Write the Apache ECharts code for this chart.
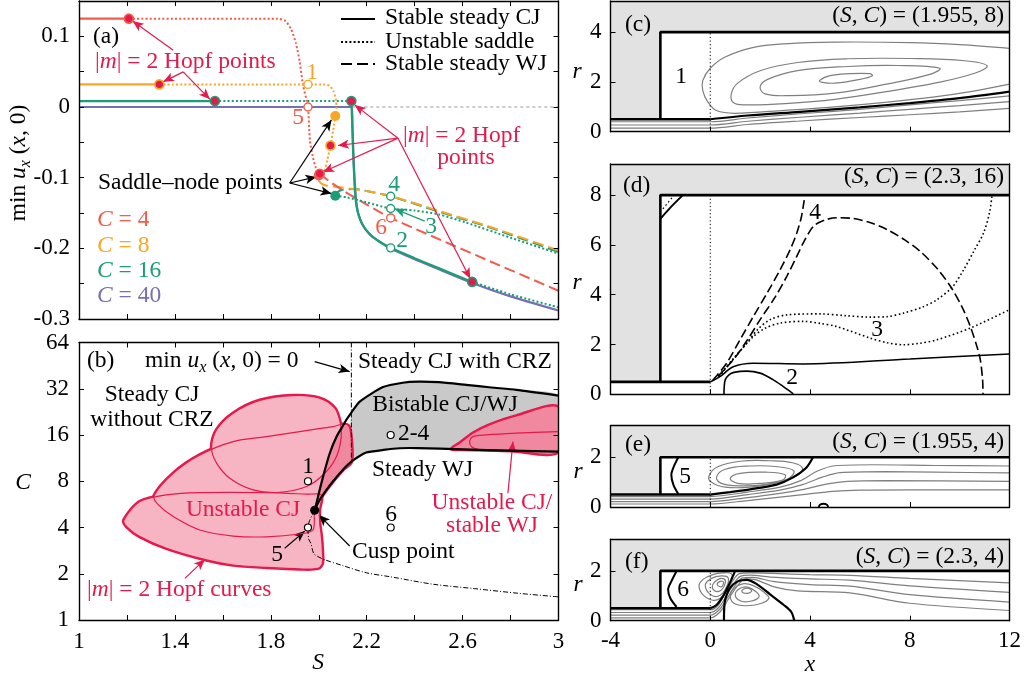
<!DOCTYPE html>
<html><head><meta charset="utf-8">
<script src="https://cdn.jsdelivr.net/npm/echarts/dist/echarts.min.js"></script>
<style>html,body{margin:0;padding:0;background:#fff}#chart{width:1034px;height:679px}</style>
</head><body><div id="chart"></div>
<script>
// ---------------- tick labels ----------------
const sTickLabels = ['1','1.4','1.8','2.2','2.6','3'];
const uTickLabels = ['0.1','0','-0.1','-0.2','-0.3'];
const cTickLabels = ['1','2','4','8','16','32','64'];
const xTickLabels = ['-4','0','4','8','12'];
const rTickLabels = ['0','2','4','6','8'];

// ---------------- panel (a): min u_x(x,0) vs S ----------------
const c4CJ = [[1,0.125],[1.208,0.125]];
const c4Saddle = [[1.208,0.125],[1.83,0.125],[1.86,0.122],[1.885,0.11],[1.905,0.09],[1.92,0.065],[1.935,0.03],[1.955,0.0],[1.963,-0.047],[1.975,-0.07],[1.988,-0.086],[2.004,-0.0944]];
const c4WJ = [[2.004,-0.0944],[2.04,-0.104],[2.1,-0.118],[2.2,-0.138],[2.3,-0.157],[3,-0.26]];
const c8CJ = [[1,0.032],[1.335,0.032]];
const c8Saddle = [[1.335,0.032],[2.02,0.032],[2.045,0.03],[2.062,0.022],[2.072,0.01],[2.074,0.0],[2.069,-0.0127],[2.06,-0.033],[2.049,-0.0545],[2.035,-0.0757],[2.022,-0.092],[2.01,-0.1],[2.0,-0.104]];
const c8WJ = [[2.0,-0.104],[2.01,-0.108],[2.03,-0.111],[2.1,-0.114],[2.2,-0.119],[2.3,-0.126],[2.5,-0.147],[2.7,-0.168],[3,-0.203]];
const c16CJ = [[1,0.0084],[1.567,0.0084]];
const c16Saddle = [[1.567,0.0084],[2.136,0.0084]];
const c16CJ2 = [[2.136,0.0084],[2.139,-0.02],[2.143,-0.06],[2.148,-0.1],[2.153,-0.128],[2.162,-0.148],[2.18,-0.165],[2.21,-0.179],[2.25,-0.19],[2.3,-0.1993],[2.4,-0.214],[2.5,-0.228],[2.64,-0.2475]];
const c16Saddle2 = [[2.64,-0.2475],[2.8,-0.265],[3,-0.2835]];
const c16Saddle3 = [[2.069,-0.1256],[2.12,-0.128],[2.2,-0.135],[2.3,-0.1437],[2.4,-0.1465],[2.5,-0.152],[2.615,-0.1636],[2.8,-0.185],[3,-0.2075]];
const c16WJ = [[2.069,-0.1256],[2.08,-0.12],[2.1,-0.117],[2.15,-0.116],[2.2,-0.119],[2.3,-0.1263],[2.5,-0.148],[2.7,-0.169],[3,-0.205]];
const c40CJ = [[1,0],[2.138,0],[2.141,-0.03],[2.145,-0.07],[2.15,-0.105],[2.156,-0.132],[2.166,-0.152],[2.185,-0.168],[2.215,-0.181],[2.26,-0.192],[2.3,-0.2003],[2.4,-0.2155],[2.5,-0.2295],[2.64,-0.249],[2.8,-0.268],[3,-0.288]];
const zeroRef = [[2.14,0],[3,0]];
const hopfPts = [[1.208,0.125],[1.335,0.032],[1.567,0.0084],[2.136,0.0084],[2.049,-0.0545],[2.004,-0.0944],[2.64,-0.2475]];
const hopfOf = [4,8,16,16,8,4,16];
const saddlePts = [[2.069,-0.0127],[2.0,-0.097],[2.069,-0.1256]];
const saddleOf = [8,4,16];
const casePts = [[1.955,0.032],[1.955,0.0],[2.3,-0.157],[2.3,-0.1993],[2.3,-0.1437],[2.3,-0.1263]];
const caseOf = [8,4,4,16,16,16];
const arrowsAHopf = [[[1.393,0.0803],[1.2236,0.1216]],[[1.4346,0.0497],[1.351,0.0356]],[[1.4346,0.0497],[1.546,0.0109]],[[2.3306,-0.0441],[2.15,0.003]],[[2.3306,-0.0441],[2.08,-0.0545]],[[2.3306,-0.0441],[2.018,-0.092]],[[2.3306,-0.0441],[2.632,-0.243]]];
const arrowsASaddle = [[[1.879,-0.1075],[2.053,-0.0183]],[[1.879,-0.1075],[1.99,-0.099]],[[1.879,-0.1075],[2.053,-0.1225]]];
const arrowsA3 = [[[2.442,-0.1615],[2.317,-0.1441]]];

// ---------------- panel (b): C vs S ----------------
const upperHorn = [[1.983,5.18],[1.997,6.35],[2.018,8.57],[2.046,12.17],[2.074,15.6],[2.1,18.3],[2.115,20.06],[2.136,22.4],[2.171,26.4],[2.268,32.8],[2.35,35.0],[2.414,35.6],[2.5,35.3],[2.615,33.9],[2.72,32.6],[2.824,31.5],[3,28.9]];
const lowerHorn = [[1.983,5.18],[2.004,6.04],[2.032,7.02],[2.058,7.94],[2.1,9.48],[2.136,10.73],[2.198,12.3],[2.27,12.79],[2.337,13.12],[2.41,13.15],[2.6,12.9],[2.8,12.65],[3,12.47]];
const crzLine = [[2.136,64],[2.136,10.73]];
const zeroContour = [[1.983,5.18],[1.962,4.44],[1.955,4.0],[1.958,3.36],[1.967,3.16],[1.979,2.71],[2.0,2.57],[2.027,2.46],[2.1,2.26],[2.198,2.03],[2.3,1.91],[2.476,1.71],[2.65,1.6],[2.837,1.49],[3,1.414]];
const lobeA = [[1.553,13.14],[1.574,17.3],[1.643,22.2],[1.754,26.9],[1.893,28.9],[2.004,27.8],[2.067,23.9],[2.09,19.1],[2.094,15.6],[2.074,11.6],[2.025,9.02],[1.949,7.39],[1.8375,6.78],[1.726,7.03],[1.629,8.37],[1.574,10.5]];
const lobeB = [[1.3125,6.42],[1.393,9.02],[1.504,11.87],[1.643,14.5],[1.782,15.63],[1.921,16.84],[2.0,17.6],[2.06,18.16],[2.101,18.8],[2.126,18.16],[2.136,14.87],[2.136,10.73],[2.1,9.48],[2.058,7.94],[2.032,7.02],[2.004,6.04],[1.983,5.18],[1.976,3.85],[1.921,3.63],[1.782,3.48],[1.643,3.52],[1.504,3.85],[1.393,4.71],[1.331,5.61]];
const lobeC = [[1.1875,4.48],[1.254,5.9],[1.365,6.52],[1.504,6.75],[1.782,6.75],[1.95,6.59],[2.011,6.51],[2.003,5.2],[2.004,4.26],[2.011,3.49],[2.015,2.85],[2.015,2.34],[1.997,2.17],[1.921,2.15],[1.782,2.2],[1.643,2.28],[1.532,2.46],[1.365,2.93],[1.254,3.49],[1.199,4.05]];
const darkSliver = [[1.983,5.18],[1.997,6.35],[2.018,8.57],[2.046,12.17],[2.074,15.6],[2.1,18.3],[2.126,18.16],[2.136,14.87],[2.136,10.73],[2.1,9.48],[2.058,7.94],[2.032,7.02],[2.004,6.04]];
const lobeD = [[2.553,12.99],[2.5875,14.14],[2.643,16.44],[2.7125,18.63],[2.824,21.3],[3,24.25],[3,12.47],[2.8,12.65],[2.6,12.9]];
const lobeE = [[3,16.84],[2.824,16.44],[2.699,16.02],[2.643,15.62],[2.629,14.49],[2.64,13.32],[2.67,12.85]];
const casePtsB = [[1.955,8],[1.955,4],[2.3,16],[2.3,4]];
const cuspPt = [[1.983,5.18]];
const arrowsBBlack = [[[1.983,48.1],[2.129,41.4]],[[1.858,2.93],[1.942,3.79]],[[2.129,3.03],[2.001,4.82]]];
const arrowsBHopf = [[[1.4417,1.866],[1.525,2.48]],[[2.789,6.68],[2.81,14.5]]];

// ---------------- panels (c)-(f): streamlines (x, r) ----------------
const chamberR = [4, 8, 2, 2];
const rTop = [5.25, 9.25, 3.27, 3.27];
const cStream1 = [[-4,0.4],[0,0.4],[1.5,0.55],[3.6,0.72],[6,0.9],[8,1.08],[10,1.25],[12,1.44]];
const cStream2 = [[-4,0.27],[0,0.27],[1.5,0.42],[3.6,0.58],[6,0.75],[8,0.9],[10,1.05],[12,1.21]];
const cStream3 = [[-4,0.14],[0,0.14],[1.5,0.29],[3.6,0.43],[6,0.57],[8,0.68],[10,0.8],[12,0.94]];
const cDivide = [[0,0.5],[1.5,0.65],[3.6,0.8],[6,0.98],[8,1.15],[10,1.35],[12,1.61]];
const cOuter = [[12,3.35],[10,3.5],[8,3.58],[5,3.6],[3,3.53],[1.7,3.38],[0.6,3.0],[0,2.55],[-0.3,2.05],[-0.3,1.65],[-0.1,1.2],[0.25,0.85],[1,0.74],[3,0.86],[5,1.0],[7,1.18],[9,1.4],[10.5,1.62],[12,1.91]];
const cLoop2 = [[0.95,1.15],[0.84,1.5],[1.1,1.95],[2,2.45],[3.5,2.78],[5.5,2.93],[8,2.94],[10.2,2.85],[11.1,2.65],[10.6,2.35],[9,1.95],[7,1.6],[5,1.3],[3,1.13],[1.5,1.08]];
const cLoop3 = [[2.0,1.8],[2.3,2.1],[3.5,2.45],[5.5,2.62],[7.5,2.66],[9.2,2.55],[8.8,2.3],[7,1.9],[5,1.55],[3.2,1.45],[2.2,1.52]];
const cLoop4 = [[4.38,2.05],[4.8,2.25],[5.6,2.33],[6.4,2.33],[6.5,2.25],[6.0,2.1],[5.0,1.95],[4.5,1.98]];

const dCJ1 = [[0,0.5],[0.39,0.71],[0.92,1.11],[1.73,1.25],[3.73,1.22],[8,1.42],[12,1.62]];
const dCJ2 = [[0.55,0],[0.56,0.3],[0.6,0.58],[0.75,0.78],[0.95,0.88],[1.46,0.93],[2.0,0.85],[2.5,0.6],[2.93,0.31],[3.33,0.02]];
const dWJ1 = [[0.1,0.56],[0.3,0.8],[0.66,1.25],[1.2,2.2],[1.73,3.13],[2.3,4.1],[2.8,5.0],[3.2,5.8],[3.47,6.48],[3.65,7.1],[3.73,7.56],[3.8,8]];
const dWJ2 = [[0.3,0.72],[0.92,1.38],[1.5,2.2],[2.0,3.0],[2.6,3.9],[3.07,4.74],[3.45,5.5],[3.73,6.08],[4.14,6.75],[4.6,7.0],[5.07,7.09],[5.74,7.06],[6.4,6.9],[7.08,6.62],[7.8,6.2],[8.42,5.74],[9.1,5.05],[9.63,4.34],[10.1,3.5],[10.43,2.72],[10.7,1.9],[10.83,1.38],[10.92,0.6],[10.94,0]];
const dSad1 = [[0.35,0.75],[0.9,1.4],[1.46,2.05],[1.9,2.6],[2.4,3.0],[3.07,3.19],[4.4,3.23],[5.4,3.16],[6.41,3.1],[7.1,3.12],[7.75,3.26],[8.5,3.5],[9.09,3.8],[9.7,4.3],[10.16,5.0],[10.6,5.8],[10.96,6.48],[11.2,7.3],[11.3,8]];
const dSad2 = [[0.35,0.7],[1.0,1.5],[1.73,2.32],[2.2,2.65],[2.8,2.86],[3.73,2.93],[4.4,2.85],[5.07,2.72],[6.41,2.26],[7.1,2.07],[7.75,1.99],[8.4,2.05],[9.09,2.19],[10.43,2.66],[12,3.4]];
const dCorner = [[-2,7.05],[-1.6,7.5],[-1.1,8]];
const dCorner2 = [[-1.9,7.45],[-1.45,8]];

const eBracket = [[-1.28,2.0],[-1.45,1.65],[-1.56,1.3],[-1.48,0.9],[-1.28,0.52]];
const eDivide = [[0,0.5],[0.8,0.6],[1.6,0.71],[2.66,0.9],[3.3,1.18],[3.85,1.58],[4.12,2.0]];
const eLoop1 = [[-0.05,1.25],[0.3,1.62],[1.2,1.84],[2.4,1.86],[3.3,1.78],[3.7,1.55],[3.4,1.22],[2.6,0.97],[1.6,0.8],[0.6,0.8],[0.05,1.0]];
const eLoop2 = [[0.25,1.2],[0.6,1.52],[1.6,1.65],[2.7,1.62],[3.35,1.45],[3.1,1.12],[2.2,0.9],[1.2,0.85],[0.45,0.95]];
const eLoop3 = [[0.8,1.15],[1.2,1.35],[2.2,1.4],[3.0,1.3],[2.9,1.08],[2.0,0.95],[1.1,0.95]];
const eStream1 = [[-4,0.42],[0,0.42],[1.5,0.6],[2.8,0.8],[3.6,1.05],[4.3,1.45],[5,1.66],[6.5,1.7],[9,1.67],[12,1.65]];
const eStream2 = [[-4,0.32],[0,0.32],[1.5,0.5],[2.8,0.68],[3.7,0.9],[4.5,1.2],[5.2,1.38],[7,1.42],[9,1.4],[12,1.37]];
const eStream3 = [[-4,0.22],[0,0.22],[1.5,0.38],[2.8,0.55],[3.8,0.72],[4.7,0.93],[5.5,1.03],[7,1.06],[12,1.03]];
const eStream4 = [[-4,0.12],[0,0.12],[1.5,0.26],[2.8,0.4],[3.9,0.52],[4.9,0.63],[6,0.68],[8,0.69],[12,0.69]];
const eBump = [[4.35,0],[4.4,0.09],[4.54,0.13],[4.68,0.09],[4.73,0]];

const fBracket = [[-1.35,2.0],[-1.55,1.6],[-1.69,1.25],[-1.6,0.9],[-1.35,0.55]];
const fDivide = [[0,0.5],[0.25,0.63],[0.55,1.05],[0.8,1.55],[1.0,2.0]];
const fHump = [[0.55,0],[0.56,0.5],[0.6,0.85],[0.78,1.3],[1.1,1.58],[1.46,1.64],[1.85,1.48],[2.4,1.06],[2.95,0.63],[3.25,0.35],[3.37,0]];
const fLeft1 = [[-0.45,1.4],[-0.3,1.65],[0.1,1.85],[0.5,1.92],[0.85,1.88],[0.85,1.6],[0.65,1.2],[0.4,0.9],[0.1,0.82],[-0.3,1.05]];
const fLeft2 = [[-0.2,1.42],[0.05,1.7],[0.45,1.8],[0.72,1.72],[0.65,1.35],[0.4,1.02],[0.05,1.02]];
const fLeft3 = [[0.1,1.45],[0.3,1.65],[0.55,1.68],[0.6,1.5],[0.4,1.2],[0.15,1.22]];
const fLeft4 = [[0.28,1.45],[0.4,1.58],[0.53,1.55],[0.45,1.36]];
const fRight1 = [[0.8,1.0],[0.95,1.3],[1.3,1.48],[1.7,1.42],[2.15,1.15],[2.35,0.9],[2.0,0.68],[1.4,0.6],[0.95,0.7]];
const fRight2 = [[1.0,1.05],[1.2,1.3],[1.5,1.35],[1.85,1.15],[1.95,0.95],[1.6,0.78],[1.2,0.8]];
const fRight3 = [[1.27,1.2],[1.4,1.3],[1.6,1.28],[1.66,1.18],[1.5,1.1],[1.32,1.12]];
const fStream1 = [[-4,0.44],[0,0.44],[0.3,0.6],[0.6,1.1],[0.9,1.6],[1.15,1.88],[1.6,1.92],[2.5,1.9],[4,1.85],[5.6,1.82],[8,1.7],[12,1.52]];
const fStream2 = [[-4,0.33],[0,0.33],[0.33,0.52],[0.65,1.0],[0.95,1.5],[1.2,1.78],[1.6,1.83],[2.4,1.75],[4,1.68],[5.6,1.63],[8,1.4],[12,1.14]];
const fStream3 = [[-4,0.22],[0,0.22],[0.36,0.44],[0.68,0.9],[1.0,1.42],[1.3,1.72],[1.7,1.74],[2.5,1.58],[4,1.45],[5.6,1.39],[8,1.05],[12,0.75]];
const fStream4 = [[-4,0.11],[0,0.11],[0.4,0.36],[0.7,0.82],[1.05,1.35],[1.4,1.68],[1.8,1.65],[2.6,1.35],[3.5,1.2],[5.6,1.12],[8,0.7],[12,0.41]];

// ---------------- styling ----------------
const FONT = 'Liberation Serif';
const FS = 23.5;
const COL = {4:'#f45b4b', 8:'#f8a724', 16:'#1b9e77', 40:'#7570b3'};
const CRIMSON = '#e6194b';
const PINK = '#f7b4c3', PINK_DARK = '#f0889f', GRAY_BI = '#c9c9c9', WALL = '#e2e2e2', STREAM = '#7f7f7f';
const DOT = [2, 2.2], DASH = [11, 5], DASHDOT = [5, 2, 1, 2];

const xAxes = [], yAxes = [];
function inList(list, s) { return list.indexOf(s) >= 0 ? s : ''; }
function addAxes(gi, xs, ys, o) {
  const line = {show:true, onZero:false, lineStyle:{color:'#000', width:1.4}};
  const tick = (show) => ({show, inside:true, length:5, lineStyle:{color:'#000', width:1}});
  const lab = (show, fmt) => ({show, formatter: fmt, margin: o.margin || 9, color:'#000', fontFamily:FONT, fontSize:23});
  xAxes.push(Object.assign({gridIndex:gi, position:'bottom', z:20, axisLine:line, axisTick:tick(o.ticks), splitLine:{show:false}, axisLabel:lab(!!o.xLab, xs.fmt)}, xs.scale));
  xAxes.push(Object.assign({gridIndex:gi, position:'top', z:20, axisLine:line, axisTick:tick(o.mirror), splitLine:{show:false}, axisLabel:{show:false}}, xs.scale));
  yAxes.push(Object.assign({gridIndex:gi, position:'left', z:20, axisLine:line, axisTick:tick(o.ticks), splitLine:{show:false}, axisLabel:lab(true, ys.fmt)}, ys.scale));
  yAxes.push(Object.assign({gridIndex:gi, position:'right', z:20, axisLine:line, axisTick:tick(o.mirror), splitLine:{show:false}, axisLabel:{show:false}}, ys.scale));
}
const sAxis = {scale:{type:'value', min:1, max:3, interval:0.2}, fmt: v => inList(sTickLabels, String(+(+v).toFixed(1)))};
const xAxisR = {scale:{type:'value', min:-4, max:12, interval:4}, fmt: v => inList(xTickLabels, String(Math.round(v)))};
addAxes(0, sAxis, {scale:{type:'value', min:-0.3, max:0.15, interval:0.05}, fmt: v => inList(uTickLabels, String(+(+v).toFixed(2)))}, {ticks:true, mirror:true});
addAxes(1, sAxis, {scale:{type:'log', logBase:2, min:1, max:64}, fmt: v => inList(cTickLabels, String(Math.round(v)))}, {ticks:true, mirror:true, xLab:true, margin:10});
for (let k = 0; k < 4; k++) {
  addAxes(2 + k, xAxisR, {scale:{type:'value', min:0, max:rTop[k], interval:2}, fmt: v => inList(rTickLabels, String(Math.round(v)))}, {ticks:true, mirror:false, xLab: k === 3, margin:9});
}

const grids = [
  {left:79, top:1, width:479.5, height:318},
  {left:79, top:342.5, width:479.5, height:277.5},
  {left:610.5, top:1, width:399, height:130.7},
  {left:610.5, top:164, width:399, height:230.3},
  {left:610.5, top:425.7, width:399, height:81.3},
  {left:610.5, top:539.3, width:399, height:81.4}
];

const series = [];
function L(gi, data, color, width, dash, smooth, z) {
  series.push({type:'line', xAxisIndex:2*gi, yAxisIndex:2*gi, data, symbol:'none', showSymbol:false,
    smooth: smooth || false, lineStyle:{color, width, type: dash || 'solid', cap:'butt'}, z: z || 3, silent:true, animation:false});
}
function P(gi, pts, style, smooth, z, closed) {
  series.push({type:'custom', xAxisIndex:2*gi, yAxisIndex:2*gi, coordinateSystem:'cartesian2d', clip:true, silent:true, z: z || 2,
    data:[pts[0]], animation:false,
    renderItem: (params, api) => ({type: closed === false ? 'polyline' : 'polygon',
      shape:{points: pts.map(p => api.coord(p)), smooth: smooth || 0},
      style: Object.assign({}, style)})});
}
function SC(gi, data, size, fill, border, bw, z) {
  series.push({type:'scatter', xAxisIndex:2*gi, yAxisIndex:2*gi, data, symbol:'circle', symbolSize:size,
    itemStyle:{color:fill, borderColor:border, borderWidth:bw, opacity:1}, z: z || 7, silent:true, animation:false});
}
function ARW(gi, list, color) {
  series.push({type:'line', xAxisIndex:2*gi, yAxisIndex:2*gi, data:[], z:8, silent:true, animation:false,
    markLine:{silent:true, animation:false, symbol:['none','arrow'], symbolSize:[7,11], label:{show:false},
      lineStyle:{color, width:1.2, type:'solid'}, emphasis:{disabled:true},
      data: list.map(a => [{coord:a[0]}, {coord:a[1]}])}});
}

// ---- panel (a)
L(0, zeroRef, '#999', 1, [3,3], false, 2);
L(0, c40CJ, COL[40], 2.2, 'solid', 0.25, 3);
L(0, c16WJ, COL[16], 2, DASH, 0.25, 3);
L(0, c8WJ, COL[8], 2, DASH, 0.25, 3);
L(0, c4WJ, COL[4], 2, DASH, 0.25, 3);
L(0, c16Saddle3, COL[16], 2, DOT, 0.25, 3);
L(0, c16CJ2, COL[16], 2.2, 'solid', 0.25, 4);
L(0, c16Saddle2, COL[16], 2, DOT, 0.25, 4);
L(0, c4CJ, COL[4], 2.2, 'solid', false, 3);
L(0, c4Saddle, COL[4], 2, DOT, 0.2, 3);
L(0, c8CJ, COL[8], 2.2, 'solid', false, 3);
L(0, c8Saddle, COL[8], 2, DOT, 0.2, 3);
L(0, c16CJ, COL[16], 2.2, 'solid', false, 3);
L(0, c16Saddle, COL[16], 2, DOT, false, 3);
SC(0, saddlePts.map((p, i) => ({value:p, itemStyle:{color:COL[saddleOf[i]], borderColor:COL[saddleOf[i]]}})), 10, '#000', '#000', 0, 6);
SC(0, hopfPts.map((p, i) => ({value:p, itemStyle:{color:CRIMSON, borderColor:COL[hopfOf[i]]}})), 9, CRIMSON, '#000', 1.6, 7);
SC(0, casePts.map((p, i) => ({value:p, itemStyle:{color:'#fff', borderColor:COL[caseOf[i]]}})), 8, '#fff', '#000', 1.4, 7);
ARW(0, arrowsAHopf, CRIMSON);
ARW(0, arrowsASaddle, '#000');
ARW(0, arrowsA3, COL[16]);

// ---- panel (b)
const grayBi = upperHorn.filter(p => p[0] >= 2.136).concat(lowerHorn.filter(p => p[0] >= 2.136).reverse());
P(1, grayBi, {fill:GRAY_BI, stroke:null}, 0.2, 1);
[lobeA, lobeB, lobeC, lobeD].forEach(l => P(1, l, {fill:'none', stroke:CRIMSON, lineWidth:3.6}, 0.3, 2));
[lobeA, lobeB, lobeC].forEach(l => P(1, l, {fill:PINK, stroke:null}, 0.3, 3));
P(1, lobeD, {fill:PINK_DARK, stroke:null}, 0.3, 3);
P(1, darkSliver, {fill:PINK_DARK, stroke:null}, 0.2, 4);
[lobeA, lobeB, lobeC, lobeD].forEach(l => P(1, l, {fill:'none', stroke:CRIMSON, lineWidth:1.2}, 0.3, 5));
P(1, lobeE, {fill:null, stroke:CRIMSON, lineWidth:1.2}, 0.3, 5, false);
P(1, upperHorn, {fill:null, stroke:'#000', lineWidth:2.2}, 0.2, 6, false);
P(1, lowerHorn, {fill:null, stroke:'#000', lineWidth:2.2}, 0.2, 6, false);
L(1, crzLine, '#000', 1, DASHDOT, false, 6);
L(1, zeroContour, '#000', 1, DASHDOT, 0.3, 6);
SC(1, casePtsB, 7, '#fff', '#000', 1.2, 7);
SC(1, cuspPt, 9, '#000', '#000', 0, 7);
ARW(1, arrowsBBlack, '#000');
ARW(1, arrowsBHopf, CRIMSON);

// ---- panels (c)-(f)
function nozzle(gi, R, top) {
  P(gi, [[-4,0.5],[-2,0.5],[-2,R],[12,R],[12,top],[-4,top]], {fill:WALL, stroke:null}, 0, 1);
  L(gi, [[0,0],[0,R]], '#000', 1, [1.2,2.4], false, 4);
  L(gi, [[-4,0.5],[0,0.5]], '#000', 2.6, 'solid', false, 6);
  L(gi, [[-2,0.5],[-2,R],[12,R]], '#000', 2.6, 'solid', false, 6);
}
const gc = 2, gd = 3, ge = 4, gf = 5;
nozzle(gc, chamberR[0], rTop[0]);
[cStream1, cStream2, cStream3].forEach(s => L(gc, s, STREAM, 1.2, 'solid', 0.3, 3));
P(gc, cOuter, {fill:null, stroke:STREAM, lineWidth:1.2}, 0.35, 3, false);
[cLoop2, cLoop3, cLoop4].forEach(s => P(gc, s, {fill:'none', stroke:STREAM, lineWidth:1.2}, 0.4, 3));
L(gc, cDivide, '#000', 2.2, 'solid', 0.3, 5);

nozzle(gd, chamberR[1], rTop[1]);
L(gd, dCJ1, '#000', 1.6, 'solid', 0.3, 5);
L(gd, dCJ2, '#000', 1.6, 'solid', 0.3, 5);
L(gd, dWJ1, '#000', 1.6, [9,4], 0.3, 5);
L(gd, dWJ2, '#000', 1.6, [9,4], 0.3, 5);
L(gd, dSad1, '#000', 1.6, [1.6,2.6], 0.3, 5);
L(gd, dSad2, '#000', 1.6, [1.6,2.6], 0.3, 5);
L(gd, dCorner, '#000', 2, 'solid', 0.3, 5);
L(gd, dCorner2, '#000', 1.2, [1.6,2.6], false, 5);

nozzle(ge, chamberR[2], rTop[2]);
[eStream1, eStream2, eStream3, eStream4].forEach(s => L(ge, s, STREAM, 1.2, 'solid', 0.3, 3));
[eLoop1, eLoop2, eLoop3].forEach(s => P(ge, s, {fill:'none', stroke:STREAM, lineWidth:1.2}, 0.4, 3));
L(ge, eDivide, '#000', 2.2, 'solid', 0.3, 5);
L(ge, eBracket, '#000', 2, 'solid', 0.3, 5);
L(ge, eBump, '#000', 2, 'solid', 0.3, 5);

nozzle(gf, chamberR[3], rTop[3]);
[fStream1, fStream2, fStream3, fStream4].forEach(s => L(gf, s, STREAM, 1.2, 'solid', 0.3, 3));
[fLeft1, fLeft2, fLeft3, fLeft4, fRight1, fRight2, fRight3].forEach(s => P(gf, s, {fill:'none', stroke:STREAM, lineWidth:1.2}, 0.4, 3));
L(gf, fDivide, '#000', 2.2, 'solid', 0.3, 5);
L(gf, fHump, '#000', 2.2, 'solid', 0.3, 5);
L(gf, fBracket, '#000', 2, 'solid', 0.3, 5);

// ---------------- text ----------------
function rich(color) {
  return {
    n:{fontSize:FS, fontFamily:FONT, fill:color, lineHeight:30},
    i:{fontSize:FS, fontFamily:FONT, fontStyle:'italic', fill:color, lineHeight:30},
    s:{fontSize:16, fontFamily:FONT, fontStyle:'italic', fill:color, lineHeight:30, verticalAlign:'bottom'}
  };
}
const texts = [];
function T(x, y, text, color, align, rot) {
  const el = {type:'text', x, y, z:100, silent:true,
    style:{text, fontSize:FS, fontFamily:FONT, fill: color || '#000', align: align || 'left', verticalAlign:'middle', rich: rich(color || '#000')}};
  if (rot) el.rotation = rot;
  texts.push(el);
}
// (a)
T(93, 37, '(a)');
T(95, 62, '{n||}{i|m}{n|| = 2 Hopf points}', CRIMSON);
T(385, 18, 'Stable steady CJ');
T(385, 42, 'Unstable saddle');
T(385, 64, 'Stable steady WJ');
T(403, 136, '{n||}{i|m}{n|| = 2 Hopf}', CRIMSON);
T(466, 158, 'points', CRIMSON, 'center');
T(98, 183, 'Saddle–node points');
T(97, 220, '{i|C}{n| = 4}', COL[4]);
T(97, 246, '{i|C}{n| = 8}', COL[8]);
T(97, 271, '{i|C}{n| = 16}', COL[16]);
T(97, 296, '{i|C}{n| = 40}', COL[40]);
T(312, 73, '1', COL[8], 'center');
T(298, 118, '5', COL[4], 'center');
T(394, 185, '4', COL[16], 'center');
T(431, 227, '3', COL[16], 'center');
T(381, 228, '6', COL[4], 'center');
T(402, 241, '2', COL[16], 'center');
T(19, 163, '{n|min }{i|u}{s|x}{n| (}{i|x}{n|, 0)}', '#000', 'center', Math.PI / 2);
// (b)
T(87, 361, '(b)');
T(145, 361, '{n|min }{i|u}{s|x}{n| (}{i|x}{n|, 0) = 0}');
T(358, 362, 'Steady CJ with CRZ');
T(152, 395, 'Steady CJ', '#000', 'center');
T(152, 420, 'without CRZ', '#000', 'center');
T(445, 405, 'Bistable CJ/WJ', '#000', 'center');
T(398, 434, '2-4');
T(308, 467, '1', '#000', 'center');
T(391, 515, '6', '#000', 'center');
T(277, 555, '5', '#000', 'center');
T(372, 470, 'Steady WJ');
T(243, 510, 'Unstable CJ', CRIMSON, 'center');
T(492, 503, 'Unstable CJ/', CRIMSON, 'center');
T(492, 526, 'stable WJ', CRIMSON, 'center');
T(352, 552, 'Cusp point');
T(87, 590, '{n||}{i|m}{n|| = 2 Hopf curves}', CRIMSON);
T(23, 483, '{i|C}', '#000', 'center');
T(318, 663, '{i|S}', '#000', 'center');
// (c)-(f)
T(625, 25, '(c)');
T(1004, 16, '{n|(}{i|S}{n|, }{i|C}{n|) = (1.955, 8)}', '#000', 'right');
T(577, 72, '{i|r}', '#000', 'center');
T(681, 77, '1', '#000', 'center');
T(623, 186, '(d)');
T(1004, 177, '{n|(}{i|S}{n|, }{i|C}{n|) = (2.3, 16)}', '#000', 'right');
T(577, 283, '{i|r}', '#000', 'center');
T(815, 213, '4', '#000', 'center');
T(877, 330, '3', '#000', 'center');
T(792, 378, '2', '#000', 'center');
T(625, 445, '(e)');
T(1004, 442, '{n|(}{i|S}{n|, }{i|C}{n|) = (1.955, 4)}', '#000', 'right');
T(578, 472, '{i|r}', '#000', 'center');
T(685, 477, '5', '#000', 'center');
T(625, 562, '(f)');
T(1004, 557, '{n|(}{i|S}{n|, }{i|C}{n|) = (2.3, 4)}', '#000', 'right');
T(578, 585, '{i|r}', '#000', 'center');
T(683, 590, '6', '#000', 'center');
T(810, 665, '{i|x}', '#000', 'center');
// legend samples for panel (a)
const legendLines = [
  {type:'line', z:100, silent:true, shape:{x1:341, y1:19, x2:375, y2:19}, style:{stroke:'#000', lineWidth:2}},
  {type:'line', z:100, silent:true, shape:{x1:341, y1:42, x2:375, y2:42}, style:{stroke:'#000', lineWidth:2, lineDash:DOT}},
  {type:'line', z:100, silent:true, shape:{x1:341, y1:64, x2:375, y2:64}, style:{stroke:'#000', lineWidth:2, lineDash:DASH}}
];

const chart = echarts.init(document.getElementById('chart'), null, {renderer:'canvas'});
chart.setOption({
  animation:false,
  backgroundColor:'#fff',
  grid: grids,
  xAxis: xAxes,
  yAxis: yAxes,
  series,
  graphic: {elements: texts.concat(legendLines)}
});
</script></body></html>
